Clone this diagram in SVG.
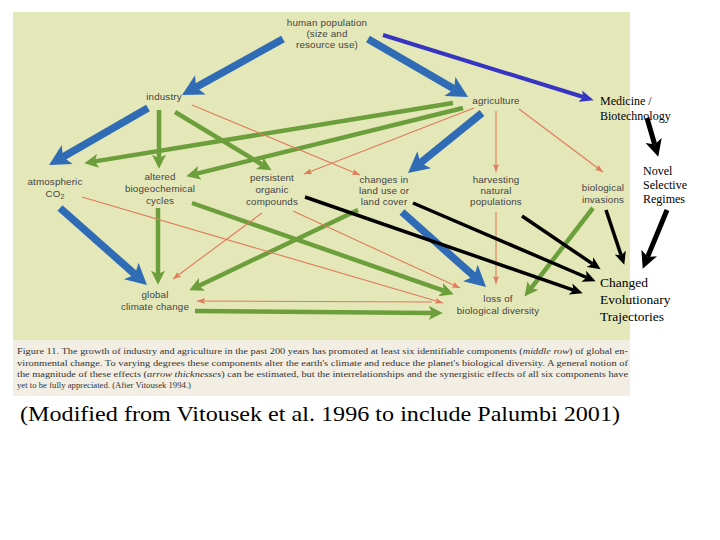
<svg xmlns="http://www.w3.org/2000/svg" width="720" height="540" viewBox="0 0 720 540">
<defs>
<style>
.n{font-family:"Liberation Sans",Arial,sans-serif;font-size:9.8px;fill:#444;text-anchor:middle;letter-spacing:0.15px}
.s{font-family:"Liberation Serif","Times New Roman",serif;fill:#000}
.cap{font-family:"Liberation Serif","Times New Roman",serif;font-size:8.3px;fill:#333}
.blue{stroke:#2F6CB5;stroke-width:7.5;fill:none;marker-end:url(#hb)}
.green{stroke:#6C9F3C;stroke-width:4.5;fill:none;marker-end:url(#hg)}
.red{stroke:#E07A5C;stroke-width:1.1;fill:none;marker-end:url(#hr)}
.blk{stroke:#000;stroke-width:3.5;fill:none;marker-end:url(#hk)}
.blkb{stroke:#000;stroke-width:5;fill:none;marker-end:url(#hkb)}
.pur{stroke:#3535C2;stroke-width:4;fill:none;marker-end:url(#hp)}
</style>
<marker id="hb" markerUnits="userSpaceOnUse" markerWidth="22" markerHeight="22" viewBox="0 0 21 22" refX="5" refY="11" orient="auto"><path d="M0,0 L21,11 L0,22 L5,11 z" fill="#2F6CB5"/></marker>
<marker id="hg" markerUnits="userSpaceOnUse" markerWidth="14" markerHeight="14" viewBox="0 0 13 13" refX="3" refY="6.5" orient="auto"><path d="M0,0 L13,6.5 L0,13 L3,6.5 z" fill="#6C9F3C"/></marker>
<marker id="hr" markerUnits="userSpaceOnUse" markerWidth="8" markerHeight="6" viewBox="0 0 8 6" refX="8" refY="3" orient="auto"><path d="M0,0 L8,3 L0,6 L1.5,3 z" fill="#E07A5C"/></marker>
<marker id="hk" markerUnits="userSpaceOnUse" markerWidth="13" markerHeight="12" viewBox="0 0 12 11" refX="3" refY="5.5" orient="auto"><path d="M0,0 L12,5.5 L0,11 L3,5.5 z" fill="#000"/></marker>
<marker id="hkb" markerUnits="userSpaceOnUse" markerWidth="17" markerHeight="17" viewBox="0 0 16 16" refX="4" refY="8" orient="auto"><path d="M0,0 L16,8 L0,16 L4,8 z" fill="#000"/></marker>
<marker id="hp" markerUnits="userSpaceOnUse" markerWidth="14" markerHeight="12" viewBox="0 0 13 11" refX="3" refY="5.5" orient="auto"><path d="M0,0 L13,5.5 L0,11 L3,5.5 z" fill="#3535C2"/></marker>
</defs>
<rect width="720" height="540" fill="#fff"/>
<rect x="13" y="12" width="617" height="328" fill="#E4E8B8"/>
<rect x="13" y="340" width="617" height="56" fill="#F2EEE4"/>

<g id="connectors">
<line class="blue" x1="283" y1="39" x2="196" y2="87.2"/>
<line class="blue" x1="368" y1="39" x2="454.2" y2="89"/>
<line class="blue" x1="148" y1="108" x2="62.9" y2="157"/>
<line class="blue" x1="482" y1="113" x2="420.4" y2="162.9"/>
<line class="blue" x1="60" y1="208" x2="135" y2="274.4"/>
<line class="blue" x1="402" y1="212" x2="474.1" y2="276.3"/>
<line class="pur" x1="383" y1="35" x2="583.4" y2="97"/>
<line class="green" x1="159" y1="110" x2="159" y2="158"/>
<line class="green" x1="175" y1="112" x2="262.4" y2="164.8"/>
<line class="green" x1="453" y1="103" x2="94.9" y2="161.4"/>
<line class="green" x1="463" y1="108" x2="196.7" y2="173.6"/>
<line class="green" x1="192" y1="203" x2="443.6" y2="290.7"/>
<line class="green" x1="358" y1="210" x2="199" y2="285.7"/>
<line class="green" x1="158" y1="208" x2="158" y2="274"/>
<line class="green" x1="195" y1="311" x2="432" y2="312.9"/>
<line class="green" x1="593" y1="208" x2="531.1" y2="288.1"/>
<line class="red" x1="192" y1="105" x2="360" y2="175"/>
<line class="red" x1="474" y1="108" x2="304" y2="174"/>
<line class="red" x1="496" y1="111" x2="496" y2="172"/>
<line class="red" x1="519" y1="109" x2="603" y2="172"/>
<line class="red" x1="82" y1="197" x2="443" y2="303"/>
<line class="red" x1="293" y1="211" x2="460" y2="288"/>
<line class="red" x1="262" y1="213" x2="173" y2="279"/>
<line class="red" x1="496" y1="212" x2="496" y2="284"/>
<line class="red" x1="432" y1="302" x2="197" y2="301"/>
<line class="blk" x1="606" y1="210" x2="621.2" y2="255.5"/>
<line class="blk" x1="522" y1="216" x2="592.6" y2="263.9"/>
<line class="blk" x1="413" y1="203" x2="586.7" y2="277.5"/>
<line class="blk" x1="305" y1="197" x2="573.5" y2="290.1"/>
<line class="blkb" x1="647" y1="118" x2="654.7" y2="144.5"/>
<line class="blkb" x1="667" y1="210" x2="647.6" y2="256.9"/>
</g>

<g id="human-population"><text class="n" x="327" y="26">human population</text><text class="n" x="327" y="37">(size and</text><text class="n" x="327" y="48">resource use)</text></g>
<g id="industry"><text class="n" x="164" y="100">industry</text></g>
<g id="agriculture"><text class="n" x="496" y="104">agriculture</text></g>
<g id="medicine"><text class="s" x="600" y="105" font-size="12">Medicine /</text><text class="s" x="600" y="120" font-size="12">Biotechnology</text></g>
<g id="atmospheric-co2"><text class="n" x="55" y="185">atmospheric</text><text class="n" x="55" y="197">CO<tspan font-size="7" dy="2">2</tspan></text></g>
<g id="altered-cycles"><text class="n" x="160" y="180">altered</text><text class="n" x="160" y="192">biogeochemical</text><text class="n" x="160" y="204">cycles</text></g>
<g id="persistent-compounds"><text class="n" x="272" y="181">persistent</text><text class="n" x="272" y="193">organic</text><text class="n" x="272" y="205">compounds</text></g>
<g id="land-use"><text class="n" x="384" y="183">changes in</text><text class="n" x="384" y="194">land use or</text><text class="n" x="384" y="205">land cover</text></g>
<g id="harvesting"><text class="n" x="496" y="183">harvesting</text><text class="n" x="496" y="194">natural</text><text class="n" x="496" y="205">populations</text></g>
<g id="invasions"><text class="n" x="603" y="191">biological</text><text class="n" x="603" y="203">invasions</text></g>
<g id="novel-regimes"><text class="s" x="643" y="175" font-size="12">Novel</text><text class="s" x="643" y="189" font-size="12">Selective</text><text class="s" x="643" y="203" font-size="12">Regimes</text></g>
<g id="global-climate"><text class="n" x="155" y="298">global</text><text class="n" x="155" y="310">climate change</text></g>
<g id="biodiversity-loss"><text class="n" x="498" y="302">loss of</text><text class="n" x="498" y="314">biological diversity</text></g>
<g id="changed-trajectories"><text class="s" x="600" y="287" font-size="13.5">Changed</text><text class="s" x="600" y="304" font-size="13.5">Evolutionary</text><text class="s" x="600" y="321" font-size="13.5">Trajectories</text></g>

<g id="figure-caption">
<text class="cap" x="17" y="354" textLength="611" lengthAdjust="spacingAndGlyphs">Figure 11. The growth of industry and agriculture in the past 200 years has promoted at least six identifiable components (<tspan font-style="italic">middle row</tspan>) of global en-</text>
<text class="cap" x="17" y="365.5" textLength="611" lengthAdjust="spacingAndGlyphs">vironmental change. To varying degrees these components alter the earth's climate and reduce the planet's biological diversity. A general notion of</text>
<text class="cap" x="17" y="376.5" textLength="611" lengthAdjust="spacingAndGlyphs">the magnitude of these effects (<tspan font-style="italic">arrow thicknesses</tspan>) can be estimated, but the interrelationships and the synergistic effects of all six components have</text>
<text class="cap" x="17" y="387.5" textLength="174" lengthAdjust="spacingAndGlyphs">yet to be fully appreciated. (After Vitousek 1994.)</text>
</g>
<g id="source-note"><text class="s" x="20" y="421" font-size="22" textLength="600" lengthAdjust="spacingAndGlyphs">(Modified from Vitousek et al. 1996 to include Palumbi 2001)</text></g>
</svg>
